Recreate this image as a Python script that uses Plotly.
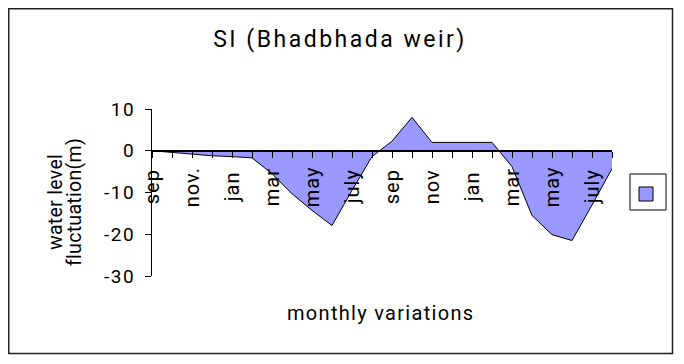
import plotly.graph_objects as go

# ---- data ----
months = ["sep", "oct", "nov.", "dec", "jan", "feb", "mar", "apr", "may", "jun", "july", "aug",
          "sep", "oct", "nov", "dec", "jan", "feb", "mar", "apr", "may", "jun", "july", "aug"]
shown_labels = ["sep", "", "nov.", "", "jan", "", "mar", "", "may", "", "july", "",
                "sep", "", "nov", "", "jan", "", "mar", "", "may", "", "july", ""]
fluctuation = [0, -0.4, -0.9, -1.2, -1.4, -1.7, -5.5, -10.3, -14.3, -17.9, -9.5, -1.4,
               2.3, 8, 2, 2, 2, 2, -3.8, -15.5, -20.1, -21.5, -13, -4.3]
y_tick_vals = [10, 0, -10, -20, -30]
y_tick_text = ["10", "0", "-10", "-20", "-30"]

title_text = "SI (Bhadbhada weir)"
x_title = "monthly variations"
y_title_lines = ["water level", "fluctuation(m)"]

FONT = "Roboto, Arial, sans-serif"
OFF = 8  # page offset of the figure inside the screenshot
W, H = 666, 348
L, R, T, B = 144, 62, 101, 80
pw, ph = W - L - R, H - T - B


def px(x):  # screenshot x -> paper fraction
    return (x - OFF - L) / pw


def py(y):  # screenshot y -> paper fraction
    return (H - B - (y - OFF)) / ph


def spaced(text, ls):
    return f'<span style="letter-spacing:{ls}px">{text}</span>'


xi = list(range(len(months)))

fig = go.Figure()
fig.add_trace(go.Scatter(
    x=xi, y=fluctuation, mode="lines", fill="tozeroy",
    fillcolor="#9999FF", line=dict(color="#000000", width=1),
    showlegend=False, hoverinfo="skip"))

ymin, ymax = -30, 10
zero_pos = (0 - ymin) / (ymax - ymin)

fig.update_layout(
    width=W, height=H,
    margin=dict(l=L, r=R, t=T, b=B, pad=0),
    paper_bgcolor="white", plot_bgcolor="white",
    font=dict(family=FONT, size=17, color="black"),
    title=dict(text=spaced(title_text, 2.5), x=(340 - OFF) / W, xref="container",
               xanchor="center", y=1 - (39 - OFF) / H, yref="container", yanchor="middle",
               font=dict(family=FONT, size=23, color="black")),
    xaxis=dict(range=[0, len(months) - 1], anchor="free", position=zero_pos,
               showgrid=False, zeroline=False, showline=True, linecolor="black", linewidth=1.5,
               tickmode="array", tickvals=xi, ticks="outside", ticklen=6, tickcolor="black",
               tickwidth=1, showticklabels=False),
    yaxis=dict(range=[ymin, ymax], showgrid=False, zeroline=False, showline=True,
               linecolor="black", linewidth=1, tickmode="array", tickvals=y_tick_vals,
               ticktext=[spaced(t, 1.5) for t in y_tick_text], ticks="outside", ticklen=6,
               tickcolor="black", ticklabelstandoff=6,
               tickfont=dict(family=FONT, size=19, color="black")),
)

annotations = []
for i, lab in enumerate(shown_labels):
    if lab:
        annotations.append(dict(x=i, y=-8.75, xref="x", yref="y", text=spaced(lab, 1),
                                textangle=-90, showarrow=False, xanchor="center",
                                yanchor="middle",
                                font=dict(family=FONT, size=20, color="black")))
annotations.append(dict(x=px(380), y=py(313), xref="paper", yref="paper",
                        text=spaced(x_title, 1.3), showarrow=False,
                        xanchor="center", yanchor="middle",
                        font=dict(family=FONT, size=20, color="black")))
for xc, line in zip([55, 74], y_title_lines):
    annotations.append(dict(x=px(xc), y=py(202), xref="paper", yref="paper",
                            text=spaced(line, 0.3), textangle=-90, showarrow=False,
                            xanchor="center", yanchor="middle",
                            font=dict(family=FONT, size=19.5, color="black")))
fig.update_layout(annotations=annotations)

shapes = [
    dict(type="rect", xref="paper", yref="paper", x0=px(8.75), x1=px(672.5),
         y0=py(353.5), y1=py(8.75),
         line=dict(color="#222222", width=1.5), fillcolor="rgba(0,0,0,0)", layer="below"),
    dict(type="rect", xref="paper", yref="paper", x0=px(630), x1=px(666),
         y0=py(210), y1=py(174),
         line=dict(color="#000000", width=1), fillcolor="white"),
    dict(type="rect", xref="paper", yref="paper", x0=px(639), x1=px(653),
         y0=py(201), y1=py(187),
         line=dict(color="#000000", width=1), fillcolor="#9999FF"),
]
fig.update_layout(shapes=shapes)

fig.write_html("out.html")
